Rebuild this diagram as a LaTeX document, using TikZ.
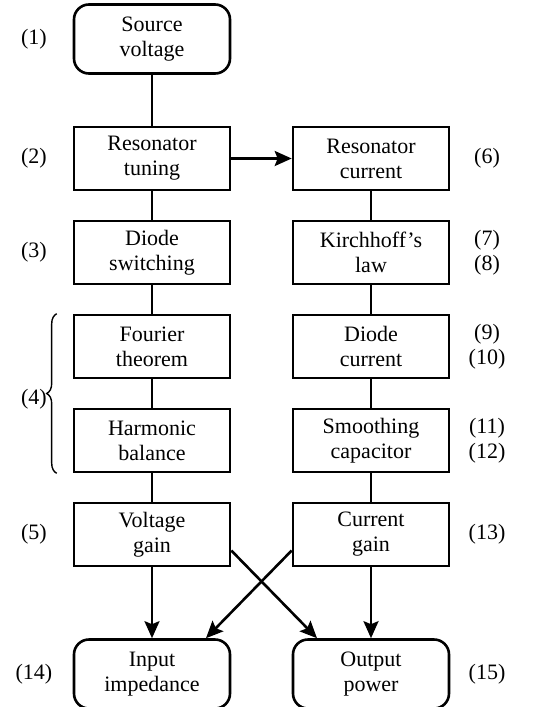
\documentclass[tikz,border=0pt]{standalone}
\usepackage{fontspec}
\setmainfont{Liberation Serif}
\usetikzlibrary{arrows.meta,positioning,decorations.pathreplacing}

\begin{document}
\begin{tikzpicture}[node distance=47pt and 109.5pt, on grid,
    font=\fontsize{11}{12.5}\selectfont,
    box/.style={draw, line width=1.3pt, minimum width=78pt, minimum height=31.5pt, inner sep=0pt, align=center},
    term/.style={box, rounded corners=7.5pt, minimum height=34.5pt},
    tag/.style={align=center},
    >={Stealth[length=8.5pt, width=7.5pt, inset=1.5pt]}]
  \useasboundingbox (-76pt,19.5pt) rectangle (190.5pt,-334pt);

  % left column
  \node[term] (source)                          {Source\\voltage};
  \node[box]  (tuning)   [below=59.75pt of source] {Resonator\\tuning};
  \node[box]  (switch)   [below=of tuning]      {Diode\\switching};
  \node[box]  (fourier)  [below=of switch]      {Fourier\\theorem};
  \node[box]  (harmonic) [below=of fourier]     {Harmonic\\balance};
  \node[box]  (vgain)    [below=of harmonic]    {Voltage\\gain};
  \node[term] (inimp)    [below=69.75pt of vgain] {Input\\impedance};

  % right column
  \node[box]  (rescur)   [right=of tuning]      {Resonator\\current};
  \node[box]  (kirch)    [below=of rescur]      {Kirchhoff's\\law};
  \node[box]  (dcur)     [below=of kirch]       {Diode\\current};
  \node[box]  (smooth)   [below=of dcur]        {Smoothing\\capacitor};
  \node[box]  (cgain)    [below=of smooth]      {Current\\gain};
  \node[term] (outpw)    [below=69.75pt of cgain] {Output\\power};

  % equation numbers
  \node[tag] (n1)  [left=59pt of source]  {(1)};
  \node[tag] (n2)  [left=59pt of tuning]  {(2)};
  \node[tag] (n3)  [left=59pt of switch]  {(3)};
  \node[tag] (n5)  [left=59pt of vgain]   {(5)};
  \node[tag] (n4)  [above=67.5pt of n5]   {(4)};
  \node[tag] (n14) [left=59pt of inimp]   {(14)};
  \node[tag] (n6)  [right=58pt of rescur] {(6)};
  \node[tag] (n7)  [right=58pt of kirch]  {(7)\\(8)};
  \node[tag] (n9)  [right=58pt of dcur]   {(9)\\(10)};
  \node[tag] (n11) [right=58pt of smooth] {(11)\\(12)};
  \node[tag] (n13) [right=58pt of cgain]  {(13)};
  \node[tag] (n15) [right=58pt of outpw]  {(15)};

  \draw[line width=0.7pt, decorate, decoration={brace, amplitude=5pt}]
    ([xshift=-8pt]harmonic.south west) -- ([xshift=-8pt]fourier.north west);

  \path[line width=1.3pt]
    (source)   edge (tuning)
    (tuning)   edge (switch)
    (switch)   edge (fourier)
    (fourier)  edge (harmonic)
    (harmonic) edge (vgain)
    (rescur)   edge (kirch)
    (kirch)    edge (dcur)
    (dcur)     edge (smooth)
    (smooth)   edge (cgain)
    (tuning)   edge[->] (rescur)
    (vgain)    edge[->] (inimp)
    (cgain)    edge[->] (outpw)
    ([yshift=-8pt]vgain.east) edge[->] ([xshift=-27pt]outpw.north)
    ([yshift=-8pt]cgain.west) edge[->] ([xshift=27pt]inimp.north);
\end{tikzpicture}
\end{document}
